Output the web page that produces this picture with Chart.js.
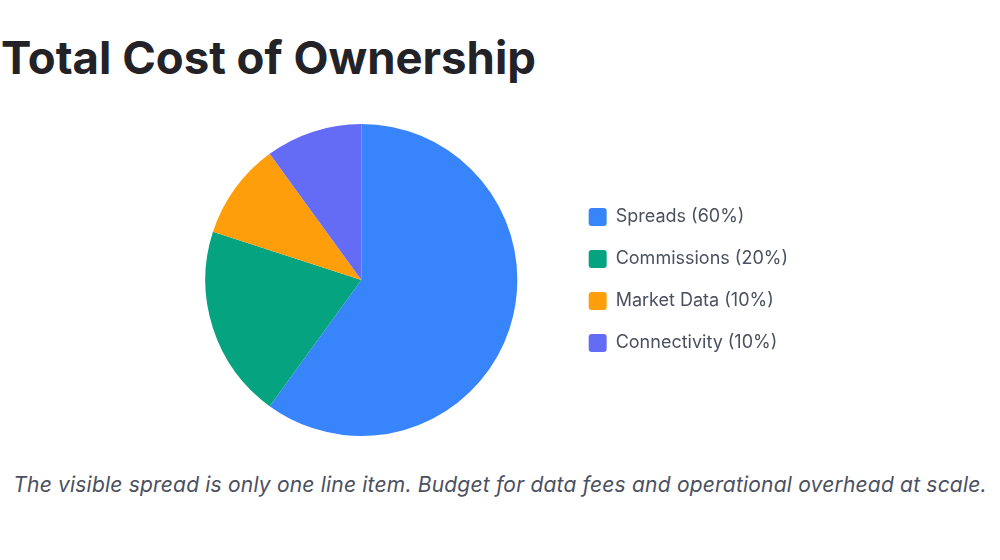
<!DOCTYPE html>
<html lang="en">

<head>
    <meta charset="UTF-8">
    <title>Total Cost of Ownership</title>
    <script src="https://cdn.jsdelivr.net/npm/chart.js"></script>
    <style>
        body {
            margin: 0;
            width: 1000px;
            height: 560px;
            background: #fff;
            font-family: Inter, "Noto Sans", sans-serif;
            position: relative;
            overflow: hidden;
        }

        h1 {
            position: absolute;
            left: 1px;
            top: 27px;
            margin: 0;
            font-size: 45.5px;
            font-weight: 700;
            line-height: 62px;
            color: #232226;
        }

        .chart-box {
            position: absolute;
            left: 0;
            top: 110px;
            width: 1000px;
            height: 345px;
        }

        .note {
            position: absolute;
            left: 0;
            width: 1000px;
            top: 472px;
            text-align: center;
            font-size: 21px;
            letter-spacing: 0.2px;
            font-style: italic;
            color: #4b5060;
        }
    </style>
</head>

<body>
    <h1>Total Cost of Ownership</h1>
    <div class="chart-box">
        <canvas id="costChart"></canvas>
    </div>
    <div class="note">The visible spread is only one line item. Budget for data fees and operational overhead at scale.</div>

    <script>
        const categories = ['Spreads', 'Commissions', 'Market Data', 'Connectivity'];
        const shares = [60, 20, 10, 10];
        const colors = ['#3884fa', '#05a37f', '#ff9e0b', '#646cf5'];

        const ctx = document.getElementById('costChart').getContext('2d');
        const costChart = new Chart(ctx, {
            type: 'pie',
            data: {
                labels: categories.map((c, i) => `${c} (${shares[i]}%)`),
                datasets: [{
                    data: shares,
                    backgroundColor: colors,
                    borderWidth: 0
                }]
            },
            options: {
                responsive: true,
                maintainAspectRatio: false,
                animation: false,
                layout: {
                    padding: { left: 158, right: 202, top: 14, bottom: 19 }
                },
                plugins: {
                    legend: {
                        position: 'right',
                        labels: {
                            boxWidth: 18,
                            boxHeight: 18,
                            padding: 24,
                            useBorderRadius: true,
                            borderRadius: 3,
                            color: '#4b5060',
                            font: { family: 'Inter', size: 18 }
                        }
                    },
                    tooltip: { enabled: false }
                }
            }
        });
    </script>
</body>

</html>
